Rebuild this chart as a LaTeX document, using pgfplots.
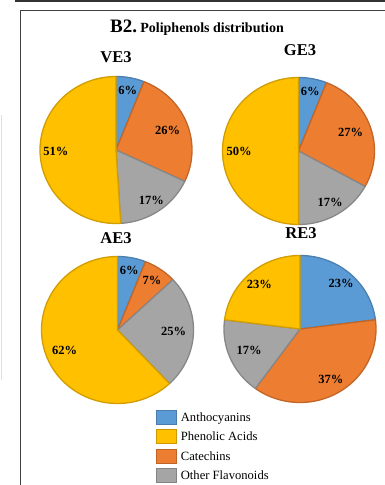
\documentclass[border=0pt]{standalone}
\usepackage{fontspec}
\setmainfont{Liberation Serif}
\usepackage{pgfplots}
\pgfplotsset{compat=1.18}
\definecolor{cblue}{HTML}{5B9BD5}
\definecolor{corange}{HTML}{ED7D31}
\definecolor{cgray}{HTML}{A5A5A5}
\definecolor{cyellow}{HTML}{FFC000}

\pgfplotsset{pie/.style={hide axis, scale only axis, width=152pt, height=147pt,
  xmin=-1,xmax=1,ymin=-1,ymax=1, clip=false, anchor=center}}
\tikzset{lbl/.style={font=\bfseries\fontsize{12.5}{12.5}\selectfont, inner sep=0pt},
  ttl/.style={font=\bfseries\fontsize{16.5}{16.5}\selectfont, inner sep=0pt}}

% start (cumulative %), value (%), colour, label radius
\newcommand{\slice}[4]{%
  \addplot[forget plot, fill=#3, draw=#3!82!black, line width=1.3pt, line join=round,
    domain=90-3.6*(#1+#2):90-3.6*#1, samples=90, variable=\t]
    ({cos(\t)},{sin(\t)}) -- (axis cs:0,0) -- cycle;
  \pgfmathsetmacro\lx{#4*cos(90-3.6*(#1+#2/2))}%
  \pgfmathsetmacro\ly{#4*sin(90-3.6*(#1+#2/2))}%
  \edef\tmp{\noexpand\node[lbl] at (axis cs:\lx,\ly) {#2\noexpand\%};}\tmp
}

\begin{document}
\begin{tikzpicture}
\useasboundingbox (0,0) rectangle (385pt,485pt);
% frame
\draw[line width=2pt, gray!40!black] (15pt,484pt) -- (385pt,484pt);
\draw[line width=0.9pt, gray!50!black] (20pt,0pt) -- (20pt,475pt) -- (385pt,475pt);
\draw[line width=0.8pt, gray!25] (1pt,370pt) -- (1pt,105pt);

% title
\node[anchor=base, inner sep=0pt] at (197pt,452pt)
  {\bfseries{\fontsize{19}{19}\selectfont B2.} {\fontsize{14}{14}\selectfont Poliphenols distribution}};

% VE3
\begin{axis}[pie, at={(116pt,335pt)}]
\slice{0}{6}{cblue}{0.83}
\slice{6}{26}{corange}{0.73}
\slice{32}{17}{cgray}{0.83}
\slice{49}{51}{cyellow}{0.79}
\end{axis}
\node[ttl] at (116pt,428pt) {VE3};

% GE3
\begin{axis}[pie, at={(298.5pt,334pt)}]
\slice{0}{6}{cblue}{0.82}
\slice{6}{27}{corange}{0.73}
\slice{33}{17}{cgray}{0.82}
\slice{50}{50}{cyellow}{0.78}
\end{axis}
\node[ttl] at (300pt,435pt) {GE3};

% AE3
\begin{axis}[pie, at={(117.5pt,155pt)}]
\slice{0}{6}{cblue}{0.82}
\slice{6}{7}{corange}{0.81}
\slice{13}{25}{cgray}{0.74}
\slice{38}{62}{cyellow}{0.75}
\end{axis}
\node[ttl] at (116pt,247pt) {AE3};

% RE3
\begin{axis}[pie, at={(300pt,156pt)},
  legend image code/.code={\draw[#1, line width=0.6pt] (0pt,-5pt) rectangle (20pt,9pt);},
  legend style={draw=none, fill=none, inner sep=0pt, row sep=3pt,
    at={(axis description cs:-0.447,-0.051)}, anchor=north west,
    nodes={inner xsep=4pt, inner ysep=0pt, text height=9pt, text depth=5pt},
    font=\fontsize{12.6}{12.6}\selectfont},
  legend cell align=left]
\addlegendimage{fill=cblue, draw=cblue!80!black}
\addlegendentry{Anthocyanins}
\addlegendimage{fill=cyellow, draw=cyellow!80!black}
\addlegendentry{Phenolic Acids}
\addlegendimage{fill=corange, draw=corange!80!black}
\addlegendentry{Catechins}
\addlegendimage{fill=cgray, draw=cgray!80!black}
\addlegendentry{Other Flavonoids}
\slice{0}{23}{cblue}{0.82}
\slice{23}{37}{corange}{0.80}
\slice{60}{17}{cgray}{0.73}
\slice{77}{23}{cyellow}{0.81}
\end{axis}
\node[ttl] at (301pt,252pt) {RE3};
\end{tikzpicture}
\end{document}
